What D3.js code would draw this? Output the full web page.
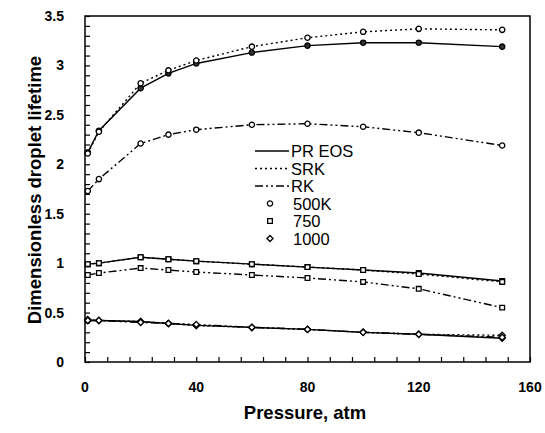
<!DOCTYPE html>
<html>
<head>
<meta charset="utf-8">
<script src="https://cdn.jsdelivr.net/npm/d3@7"></script>
<style>
  body { margin: 0; background: #fff; }
  svg text { font-family: "Liberation Sans", Arial, sans-serif; fill: #000; }
</style>
</head>
<body>
<script>
// pressure points (atm)
const pressures = [1, 5, 20, 30, 40, 60, 80, 100, 120, 150];

// 500K
const pr500  = [2.12, 2.34, 2.77, 2.92, 3.02, 3.13, 3.20, 3.23, 3.23, 3.19];
const srk500 = [2.11, 2.33, 2.82, 2.95, 3.05, 3.19, 3.28, 3.34, 3.37, 3.36];
const rk500  = [1.73, 1.85, 2.21, 2.30, 2.35, 2.40, 2.41, 2.38, 2.32, 2.19];
// 750K
const pr750  = [0.99, 1.00, 1.06, 1.04, 1.02, 0.99, 0.96, 0.93, 0.90, 0.82];
const srk750 = [0.99, 1.00, 1.06, 1.04, 1.02, 0.99, 0.96, 0.93, 0.89, 0.81];
const rk750  = [0.88, 0.90, 0.95, 0.93, 0.91, 0.88, 0.85, 0.81, 0.74, 0.55];
// 1000K
const pr1000  = [0.42, 0.42, 0.41, 0.39, 0.37, 0.35, 0.33, 0.30, 0.28, 0.24];
const srk1000 = [0.43, 0.42, 0.41, 0.39, 0.37, 0.35, 0.33, 0.30, 0.28, 0.27];
const rk1000  = [0.42, 0.42, 0.40, 0.39, 0.38, 0.35, 0.33, 0.30, 0.28, 0.25];

const xTicks = [0, 40, 80, 120, 160];
const yTicks = [0, 0.5, 1, 1.5, 2, 2.5, 3, 3.5];

const lineKinds = [
  { name: 'PR EOS', dash: null },
  { name: 'SRK', dash: '2,3' },
  { name: 'RK', dash: '8,3,2,3,2,3' }
];
const tempKinds = [
  { name: '500K', symbol: d3.symbolCircle, size: 22 },
  { name: '750', symbol: d3.symbolSquare, size: 22 },
  { name: '1000', symbol: d3.symbolDiamond2, size: 24 }
];

const series = [
  { values: pr500, line: 0, temp: 0 },
  { values: srk500, line: 1, temp: 0 },
  { values: rk500, line: 2, temp: 0 },
  { values: pr750, line: 0, temp: 1 },
  { values: srk750, line: 1, temp: 1 },
  { values: rk750, line: 2, temp: 1 },
  { values: pr1000, line: 0, temp: 2 },
  { values: srk1000, line: 1, temp: 2 },
  { values: rk1000, line: 2, temp: 2 }
];

const width = 545, height = 433;
const margin = { left: 85, right: 15, top: 16, bottom: 71 };

const svg = d3.select('body').append('svg')
  .attr('width', width)
  .attr('height', height);

const x = d3.scaleLinear().domain([0, 160]).range([margin.left, width - margin.right]);
const y = d3.scaleLinear().domain([0, 3.5]).range([height - margin.bottom, margin.top]);

// frame
svg.append('rect')
  .attr('x', x(0)).attr('y', y(3.5))
  .attr('width', x(160) - x(0)).attr('height', y(0) - y(3.5))
  .attr('fill', 'none').attr('stroke', '#000').attr('stroke-width', 1.5);

// inward minor ticks
const xAxis = svg.append('g')
  .attr('transform', 'translate(0,' + y(0) + ')')
  .call(d3.axisBottom(x).tickValues(d3.range(0, 161, 8)).tickSize(-5).tickFormat(''));
const yAxis = svg.append('g')
  .attr('transform', 'translate(' + x(0) + ',0)')
  .call(d3.axisLeft(y).tickValues(d3.range(0, 3.51, 0.1)).tickSize(-5).tickFormat(''));
[xAxis, yAxis].forEach(function(a) {
  a.select('.domain').remove();
  a.selectAll('line').attr('stroke', '#000').attr('stroke-width', 1.2);
});

// tick labels
svg.append('g').selectAll('text')
  .data(xTicks).join('text')
  .attr('x', d => x(d)).attr('y', y(0) + 30)
  .attr('text-anchor', 'middle')
  .style('font-size', '14px').style('font-weight', 'bold')
  .text(d => d);
svg.append('g').selectAll('text')
  .data(yTicks).join('text')
  .attr('x', 64).attr('y', d => y(d) + 5)
  .attr('text-anchor', 'end')
  .style('font-size', '14px').style('font-weight', 'bold')
  .text(d => d);

// axis titles
svg.append('text')
  .attr('x', 305).attr('y', 419)
  .attr('text-anchor', 'middle')
  .style('font-size', '18.5px').style('font-weight', 'bold')
  .text('Pressure, atm');
svg.append('text')
  .attr('transform', 'translate(41,' + ((y(0) + y(3.5)) / 2 + 1) + ') rotate(-90)')
  .attr('text-anchor', 'middle')
  .style('font-size', '18.5px').style('font-weight', 'bold')
  .text('Dimensionless droplet lifetime');

// curves
const line = d3.line()
  .x((d, i) => x(pressures[i]))
  .y(d => y(d));

const plot = svg.append('g');
series.forEach(function(s) {
  plot.append('path')
    .attr('d', line(s.values))
    .attr('fill', 'none')
    .attr('stroke', '#000')
    .attr('stroke-width', 1.4)
    .attr('stroke-dasharray', lineKinds[s.line].dash);
});
series.forEach(function(s) {
  const t = tempKinds[s.temp];
  plot.append('g').selectAll('path')
    .data(s.values).join('path')
    .attr('transform', (d, i) => 'translate(' + x(pressures[i]) + ',' + y(d) + ')')
    .attr('d', d3.symbol().type(t.symbol).size(t.size))
    .attr('fill', s.line === 0 ? '#333' : '#fff')
    .attr('stroke', '#000')
    .attr('stroke-width', 1.3);
});

// legend
const legend = svg.append('g');
const rowH = 17.5, legTop = 151;
lineKinds.forEach(function(k, i) {
  const yy = legTop + i * rowH;
  legend.append('line')
    .attr('x1', 255).attr('x2', 289).attr('y1', yy).attr('y2', yy)
    .attr('stroke', '#000').attr('stroke-width', 1.4)
    .attr('stroke-dasharray', k.dash);
  legend.append('text')
    .attr('x', 291).attr('y', yy + 6)
    .style('font-size', '16.5px')
    .text(k.name);
});
tempKinds.forEach(function(k, i) {
  const yy = legTop + (i + 3) * rowH;
  legend.append('path')
    .attr('transform', 'translate(270,' + yy + ')')
    .attr('d', d3.symbol().type(k.symbol).size(k.size))
    .attr('fill', '#fff').attr('stroke', '#000').attr('stroke-width', 1.3);
  legend.append('text')
    .attr('x', 293).attr('y', yy + 6)
    .style('font-size', '16.5px')
    .text(k.name);
});
</script>
</body>
</html>
